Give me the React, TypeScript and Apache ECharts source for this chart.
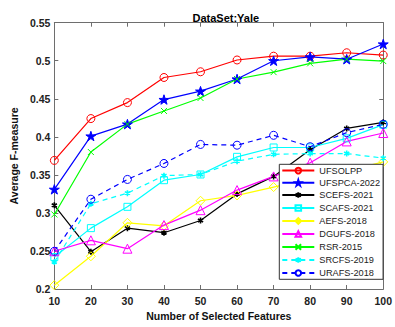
import React, { useEffect, useRef } from "react";
import * as echarts from "echarts";

const features = [10, 20, 30, 40, 50, 60, 70, 80, 90, 100];
const yTicks = [0.2, 0.25, 0.3, 0.35, 0.4, 0.45, 0.5, 0.55];

const UFSOLPP = [0.369, 0.424, 0.445, 0.478, 0.4855, 0.501, 0.506, 0.506, 0.5105, 0.5075];
const UFSPCA_2022 = [0.331, 0.401, 0.4167, 0.449, 0.46, 0.476, 0.5, 0.505, 0.502, 0.522];
const SCEFS_2021 = [0.31, 0.249, 0.28, 0.274, 0.29, 0.325, 0.348, 0.383, 0.411, 0.419];
const SCAFS_2021 = [0.242, 0.28, 0.308, 0.343, 0.3505, 0.3737, 0.386, 0.386, 0.398, 0.416];
const AEFS_2018 = [0.205, 0.243, 0.287, 0.283, 0.316, 0.323, 0.334, 0.345, 0.355, 0.367];
const DGUFS_2018 = [0.2496, 0.264, 0.253, 0.284, 0.3036, 0.33, 0.348, 0.366, 0.394, 0.405];
const RSR_2015 = [0.298, 0.38, 0.4167, 0.434, 0.451, 0.476, 0.485, 0.4966, 0.502, 0.4996];
const SRCFS_2019 = [0.2355, 0.312, 0.326, 0.349, 0.3505, 0.368, 0.377, 0.378, 0.378, 0.372];
const URAFS_2018 = [0.2496, 0.318, 0.344, 0.365, 0.39, 0.389, 0.402, 0.387, 0.4055, 0.4165];

const STAR =
  "path://M0,-10L2.245,-3.09L9.51,-3.09L3.633,1.18L5.878,8.09L0,3.82L-5.878,8.09L-3.633,1.18L-9.51,-3.09L-2.245,-3.09Z";
const ASTERISK = "path://M0,-5L0,5M-4.33,-2.5L4.33,2.5M-4.33,2.5L4.33,-2.5";
const XMARK = "path://M-4,-4L4,4M-4,4L4,-4";

const AXIS_COLOR = "#6e6e6e";
const FONT = "Liberation Sans, Arial, sans-serif";

function mk(
  name: string,
  values: number[],
  color: string,
  symbol: string,
  size: number,
  fill: string,
  dashed: boolean,
  borderWidth = 1
) {
  return {
    type: "line",
    name,
    data: features.map((x, i) => [x, values[i]]),
    symbol,
    symbolSize: size,
    symbolKeepAspect: true,
    showSymbol: true,
    clip: false,
    lineStyle: { color, width: 1.2, type: dashed ? [5, 4] : "solid" },
    itemStyle: { color: fill, borderColor: color, borderWidth },
    emphasis: { disabled: true },
  };
}

export default function App() {
  const ref = useRef<HTMLDivElement>(null);
  useEffect(() => {
    if (!ref.current) return;
    const chart = echarts.init(ref.current, undefined, { renderer: "svg" });
    const tickLabel = { color: "#222", fontFamily: FONT, fontWeight: "bold", fontSize: 10.5 };
    const option: any = {
      animation: false,
      backgroundColor: "#fff",
      title: {
        text: "DataSet:Yale",
        left: 220.8,
        textAlign: "center",
        top: 7,
        textStyle: { fontFamily: FONT, fontWeight: "bold", fontSize: 11, color: "#000" },
      },
      grid: { left: 51.7, right: 4.5, top: 22.7, bottom: 38, containLabel: false },
      legend: {
        orient: "vertical",
        left: 279.3,
        top: 164.3,
        padding: [1, 3, 1, 2],
        itemWidth: 32,
        itemHeight: 7,
        itemGap: 2.4,
        backgroundColor: "#fff",
        borderColor: "#333",
        borderWidth: 1,
        textStyle: { fontFamily: FONT, fontSize: 9.2, color: "#222", lineHeight: 8.6 },
        data: [
          "UFSOLPP",
          "UFSPCA-2022",
          "SCEFS-2021",
          "SCAFS-2021",
          "AEFS-2018",
          "DGUFS-2018",
          "RSR-2015",
          "SRCFS-2019",
          "URAFS-2018",
        ],
      },
      xAxis: [
        {
          type: "value",
          min: 10,
          max: 100,
          interval: 10,
          name: "Number of Selected Features",
          nameLocation: "middle",
          nameGap: 21,
          nameTextStyle: { fontFamily: FONT, fontWeight: "bold", fontSize: 10.5, color: "#111" },
          axisLine: { show: true, lineStyle: { color: AXIS_COLOR, width: 1 } },
          axisTick: { show: true, inside: true, length: 4, lineStyle: { color: AXIS_COLOR } },
          axisLabel: { ...tickLabel, margin: 6 },
          splitLine: { show: false },
        },
        {
          type: "value",
          position: "top",
          min: 10,
          max: 100,
          interval: 10,
          axisLine: { show: true, onZero: false, lineStyle: { color: AXIS_COLOR, width: 1 } },
          axisTick: { show: true, inside: true, length: 4, lineStyle: { color: AXIS_COLOR } },
          axisLabel: { show: false },
          splitLine: { show: false },
        },
      ],
      yAxis: [
        {
          type: "value",
          min: 0.2,
          max: 0.55,
          interval: 0.05,
          name: "Average F-measure",
          nameLocation: "middle",
          nameGap: 31,
          nameTextStyle: { fontFamily: FONT, fontWeight: "bold", fontSize: 10.5, color: "#111" },
          axisLine: { show: true, lineStyle: { color: AXIS_COLOR, width: 1 } },
          axisTick: { show: true, inside: true, length: 4, lineStyle: { color: AXIS_COLOR } },
          axisLabel: {
            ...tickLabel,
            margin: 4,
            formatter: (v: number) => {
              const t = yTicks.find((k) => Math.abs(k - v) < 1e-6);
              return t !== undefined ? String(t) : "";
            },
          },
          splitLine: { show: false },
        },
        {
          type: "value",
          position: "right",
          min: 0.2,
          max: 0.55,
          interval: 0.05,
          axisLine: { show: true, onZero: false, lineStyle: { color: AXIS_COLOR, width: 1 } },
          axisTick: { show: true, inside: true, length: 4, lineStyle: { color: AXIS_COLOR } },
          axisLabel: { show: false },
          splitLine: { show: false },
        },
      ],
      series: [
        mk("UFSOLPP", UFSOLPP, "#ff0000", "circle", 8, "none", false),
        mk("UFSPCA-2022", UFSPCA_2022, "#0000ff", STAR, 10, "#0000ff", false),
        mk("SCEFS-2021", SCEFS_2021, "#000000", ASTERISK, 6, "none", false, 1.6),
        mk("SCAFS-2021", SCAFS_2021, "#00ffff", "rect", 7, "none", false),
        mk("AEFS-2018", AEFS_2018, "#ffff00", "diamond", 9, "none", false),
        mk("DGUFS-2018", DGUFS_2018, "#ff00ff", "triangle", 9, "none", false),
        mk("RSR-2015", RSR_2015, "#00ff00", XMARK, 6, "none", false),
        mk("SRCFS-2019", SRCFS_2019, "#00ffff", ASTERISK, 6, "none", true, 1.6),
        mk("URAFS-2018", URAFS_2018, "#0000ff", "circle", 8, "none", true),
      ],
    };
    chart.setOption(option);
    return () => chart.dispose();
  }, []);
  return (
    <div
      ref={ref}
      style={{ position: "fixed", left: 0, top: 0, width: 395, height: 327 }}
    />
  );
}
